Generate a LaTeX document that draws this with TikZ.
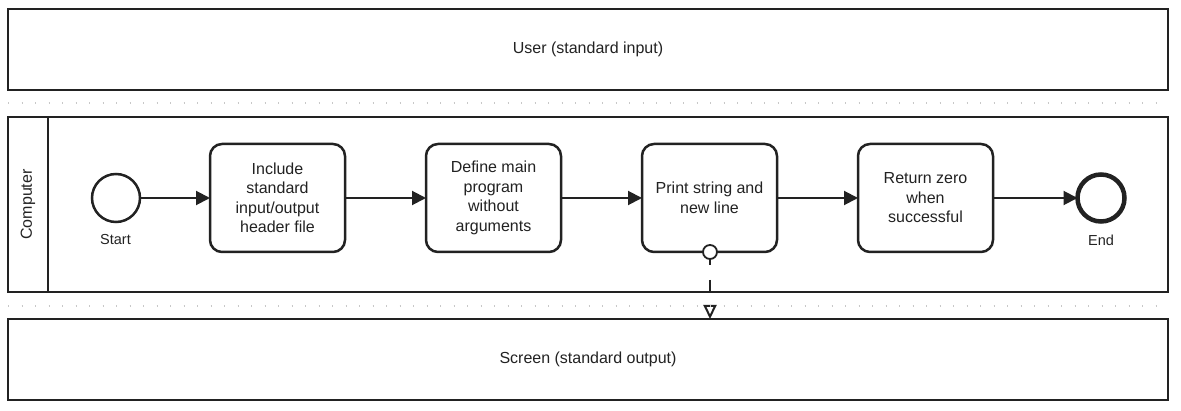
\documentclass[tikz,border=0pt]{standalone}
\usepackage{fontspec}
\setmainfont{Liberation Sans}
\usetikzlibrary{arrows.meta,calc,backgrounds}
\definecolor{ink}{HTML}{222222}
\definecolor{sepc}{HTML}{C8C8C8}
\tikzset{
  lane/.style={draw=ink, line width=2pt, rectangle, inner sep=0pt, outer sep=0pt, minimum width=1160pt, text=ink, font=\fontsize{16}{19.5}\selectfont},
  task/.style={draw=ink, line width=2.5pt, rectangle, rounded corners=12pt, minimum width=135pt, minimum height=108pt, inner sep=0pt, outer sep=0pt, align=center, text=ink, font=\fontsize{16}{19.5}\selectfont},
  startev/.style={draw=ink, circle, line width=2.5pt, minimum size=48pt, inner sep=0pt, outer sep=0pt},
  endev/.style={draw=ink, circle, line width=4.5pt, minimum size=47pt, inner sep=0pt, outer sep=0pt},
  evlabel/.style={text=ink, font=\fontsize{14.5}{17}\selectfont, inner sep=0pt},
  flow/.style={draw=ink, line width=2pt, -{Triangle[length=14pt,width=14pt]}},
  msg/.style={draw=ink, line width=2pt, dash pattern=on 13pt off 15pt, -{Triangle[open,length=14pt,width=13pt,line width=2pt]}},
  sep/.style={draw=sepc, line width=1.2pt, dash pattern=on 1.2pt off 12.3pt},
  attach/.style={draw=ink, fill=white, circle, line width=1.8pt, minimum size=14pt, inner sep=0pt, outer sep=0pt}
}
\begin{document}
\begin{tikzpicture}[x=1pt,y=-1pt]
\useasboundingbox (0,0) rectangle (1181,411);

% lanes
\node[lane, minimum height=81pt] (user) at (588,49.5) {User (standard input)};
\node[lane, minimum height=175pt] (comp) at (588,204.5) {};
\node[lane, minimum height=81pt] (screen) at (588,359.5) {Screen (standard output)};
\draw[draw=ink, line width=2pt] ($(comp.north west)+(40,0)$) -- ($(comp.south west)+(40,0)$);
\node[rotate=90, text=ink, font=\fontsize{16}{19.5}\selectfont] (complabel) at (28,204.5) {Computer};

% separators
\draw[sep] (8,103) -- (1168,103);
\draw[sep] (8,306) -- (1168,306);

% events and tasks
\node[startev] (start) at (116,198) {};
\node[evlabel] (startlbl) at (115.5,240) {Start};
\node[task] (t1) at (277.5,198) {Include\\standard\\input/output\\header file};
\node[task] (t2) at (493.5,198) {Define main\\program\\without\\arguments};
\node[task] (t3) at (709.5,198) {Print string and\\new line};
\node[task] (t4) at (925.5,198) {Return zero\\when\\successful};
\node[endev] (end) at (1101,198) {};
\node[evlabel] (endlbl) at (1101,240) {End};

% sequence flows
\draw[flow] (start) -- (t1);
\draw[flow] (t1) -- (t2);
\draw[flow] (t2) -- (t3);
\draw[flow] (t3) -- (t4);
\draw[flow] (t4) -- (end);

% message flow
\node[attach] (mf) at (710,252) {};
\begin{scope}[on background layer]
\fill[white] (0,0) rectangle (1181,411);
\draw[msg] (mf.center) -- (mf.center |- screen.north);
\end{scope}
\end{tikzpicture}
\end{document}
